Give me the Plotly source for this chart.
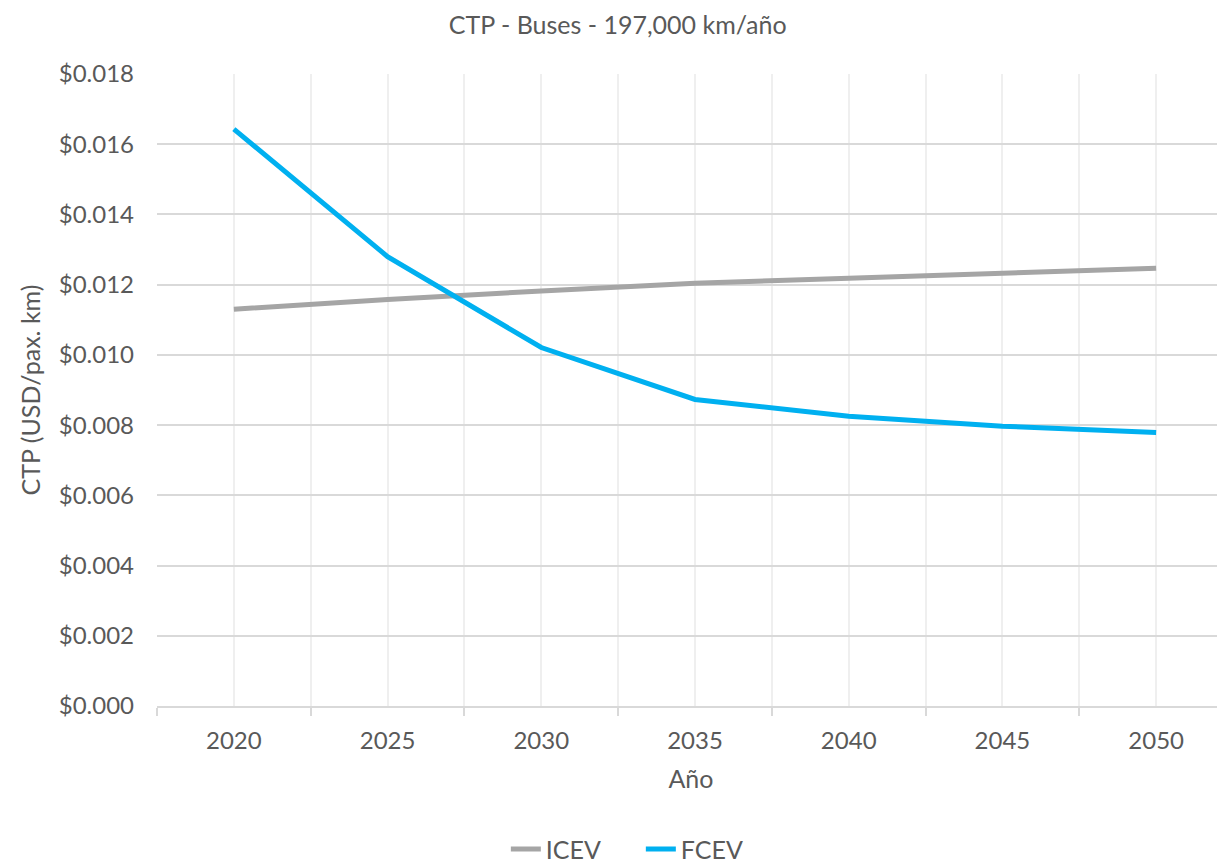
import plotly.graph_objects as go

# Data
years = [2020, 2025, 2030, 2035, 2040, 2045, 2050]
icev = [0.01130, 0.01158, 0.01182, 0.01204, 0.01218, 0.01233, 0.01247]
fcev = [0.01643, 0.01280, 0.01021, 0.00873, 0.00825, 0.00797, 0.00779]
boundaries = [2017.5, 2022.5, 2027.5, 2032.5, 2037.5, 2042.5, 2047.5, 2052.5]
y_ticks = [0, 0.002, 0.004, 0.006, 0.008, 0.010, 0.012, 0.014, 0.016, 0.018]

font_family = "Lato, 'Open Sans', sans-serif"
text_color = "#595959"

fig = go.Figure()
fig.add_trace(go.Scatter(x=years, y=icev, name="ICEV", mode="lines",
                         line=dict(color="#A5A5A5", width=5)))
fig.add_trace(go.Scatter(x=years, y=fcev, name="FCEV", mode="lines",
                         line=dict(color="#00B0F0", width=5)))

# page body adds an 8px margin, so the figure is 8px smaller than the window
fig.update_layout(
    width=1217,
    height=855,
    paper_bgcolor="white",
    plot_bgcolor="white",
    font=dict(family=font_family, size=24, color=text_color),
    margin=dict(l=149, r=0, t=66, b=157),
    title=dict(text="CTP - Buses - 197,000 km/año", x=0.501, xref="container",
               xanchor="center", y=0.980, yref="container", yanchor="middle",
               font=dict(size=25, color=text_color)),
    legend=dict(orientation="h", xref="container", x=0.52, xanchor="center",
                yref="container", y=0.016, yanchor="middle",
                entrywidth=90, entrywidthmode="pixels",
                font=dict(size=25, color=text_color)),
    showlegend=True,
)

fig.update_xaxes(
    range=[2017.5, 2052.24],
    tickmode="array",
    tickvals=years,
    ticktext=[str(y) for y in years],
    ticks="",
    showgrid=True,
    gridcolor="#EFEFEF",
    gridwidth=1.5,
    zeroline=False,
    showline=True,
    linecolor="#D9D9D9",
    linewidth=2,
    ticklabelstandoff=12,
    minor=dict(tickmode="array", tickvals=boundaries, ticks="outside",
               ticklen=8, tickcolor="#D9D9D9", tickwidth=1.5,
               showgrid=True, gridcolor="#EFEFEF", gridwidth=1.5),
    title=dict(text="Año", standoff=18, font=dict(size=25, color=text_color)),
)

fig.update_yaxes(
    range=[0, 0.018],
    tickmode="array",
    tickvals=y_ticks,
    tickformat="$.3f",
    showgrid=True,
    gridcolor="#D9D9D9",
    gridwidth=2,
    zeroline=False,
    showline=False,
    ticks="",
    ticklabelstandoff=22,
    title=dict(text="CTP (USD/pax. km)", standoff=10,
               font=dict(size=25, color=text_color)),
)

fig.write_html("out.html")
